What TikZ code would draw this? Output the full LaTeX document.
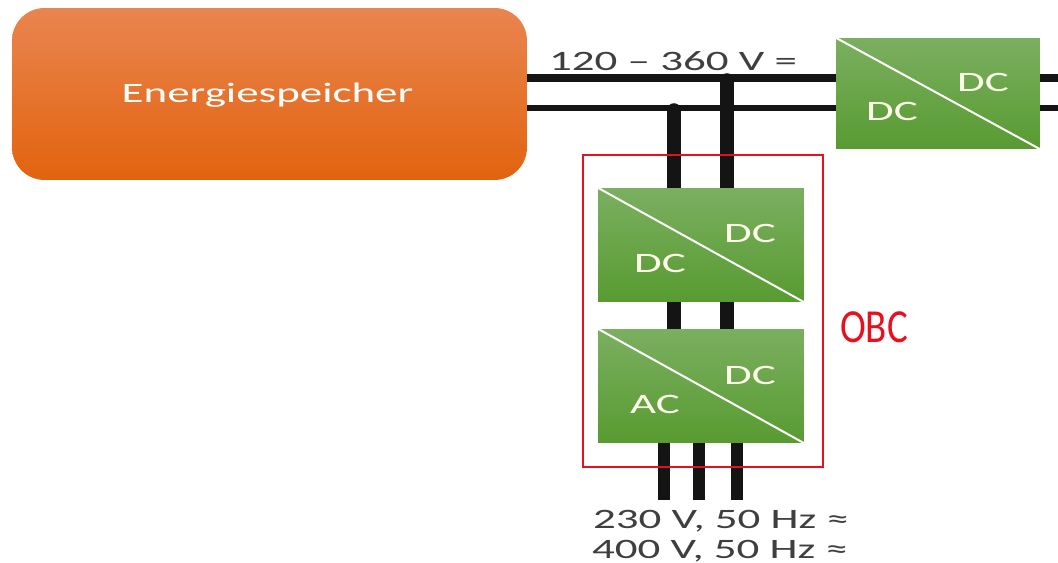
\documentclass[tikz,border=0pt]{standalone}
\usepackage{fontspec}
\usepackage{graphicx}
\setmainfont{Carlito}
\usetikzlibrary{backgrounds}
\definecolor{labelgray}{HTML}{3F3F3F}
\definecolor{boxtop}{HTML}{7BAF60}
\definecolor{boxbottom}{HTML}{589B31}
\definecolor{storetop}{HTML}{E9854F}
\definecolor{storebottom}{HTML}{E2630F}
\definecolor{obcred}{HTML}{E8101F}
\newcommand{\widetext}[1]{\scalebox{1.6}[1]{#1}}
\tikzset{
    converter/.style={minimum width=4.12cm,minimum height=2.28cm,inner sep=0pt,
        top color=boxtop,bottom color=boxbottom},
    boxlabel/.style={font=\fontsize{16}{16}\selectfont,text=white!92!yellow,inner sep=0pt},
    voltlabel/.style={font=\fontsize{16}{16}\selectfont,text=labelgray,inner sep=0pt},
    busline/.style={black!92,line width=0.15cm},
    tapline/.style={black!92,line width=0.27cm,line cap=round},
    phaseline/.style={black!92,line width=0.24cm},
}
\begin{document}
\begin{tikzpicture}[x=0.02cm,y=-0.02cm]
    \useasboundingbox (0,0) rectangle (1058,563);

    \node[minimum width=10.3cm,minimum height=3.44cm,inner sep=0pt,rounded corners=0.65cm,
        top color=storetop,bottom color=storebottom,
        font=\fontsize{16}{16}\selectfont,text=white] (store) at (269.5,94) {};
    \node[inner sep=0pt,font=\fontsize{16}{16}\selectfont,text=white] (storelabel) at (267.5,95) {\widetext{Energiespeicher}};

    \node[converter,minimum width=4.08cm,minimum height=2.22cm] (carconv) at (938,93.5) {};
    \node[converter] (dcconv) at (701,245) {};
    \node[converter] (acconv) at (701,386) {};
    \node[draw=obcred,line width=0.03cm,minimum width=4.8cm,minimum height=6.24cm,inner sep=0pt] (obc) at (703,311) {};

    % free ends and junctions
    \coordinate (busA) at (727,80);
    \coordinate (busB) at (674,110);
    \coordinate (outA) at (1058,78);
    \coordinate (outB) at (1058,108);
    \coordinate (gridA) at (664,500);
    \coordinate (gridB) at (699,500);
    \coordinate (gridC) at (737,500);

    \begin{scope}[on background layer]
        \draw[busline] (store.east |- outA) -- (carconv.west |- outA);
        \draw[busline,line width=0.12cm] (store.east |- outB) -- (carconv.west |- outB);
        \draw[busline] (carconv.east |- outA) -- (outA);
        \draw[busline,line width=0.12cm] (carconv.east |- outB) -- (outB);

        \draw[tapline] (busA) -- (dcconv.center -| busA);
        \draw[tapline] (busB) -- (dcconv.center -| busB);
        \draw[tapline] (dcconv.center -| busA) -- (acconv.center -| busA);
        \draw[tapline] (dcconv.center -| busB) -- (acconv.center -| busB);

        \draw[phaseline] (acconv.south -| gridA) -- (gridA);
        \draw[phaseline] (acconv.south -| gridB) -- (gridB);
        \draw[phaseline] (acconv.south -| gridC) -- (gridC);
    \end{scope}

    \draw[white,line width=0.04cm] (carconv.north west) -- (carconv.south east);
    \draw[white,line width=0.04cm] (dcconv.north west) -- (dcconv.south east);
    \draw[white,line width=0.04cm] (acconv.north west) -- (acconv.south east);

    \node[boxlabel] (carhigh) at (983,82) {\widetext{DC}};
    \node[boxlabel] (carlow) at (892,111) {\widetext{DC}};
    \node[boxlabel] (dchigh) at (750,233) {\widetext{DC}};
    \node[boxlabel] (dclow) at (660,263) {\widetext{DC}};
    \node[boxlabel] (achigh) at (750,375) {\widetext{DC}};
    \node[boxlabel] (aclow) at (655,404) {\widetext{AC}};

    \node[voltlabel] (buslabel) at (673,61) {\widetext{120 – 360 V =}};
    \node[voltlabel] (gridone) at (721,521) {\widetext{230 V, 50 Hz ≈}};
    \node[voltlabel] (gridtwo) at (720,551) {\widetext{400 V, 50 Hz ≈}};
    \node[font=\fontsize{27}{27}\selectfont,text=obcred,inner sep=0pt] (obclabel) at (874,327) {\scalebox{0.82}[1]{OBC}};
\end{tikzpicture}
\end{document}
